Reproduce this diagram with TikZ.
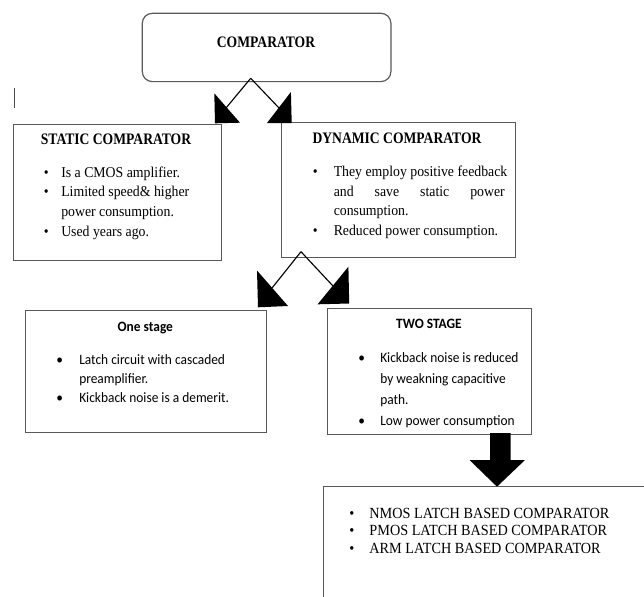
\documentclass[tikz,border=0pt]{standalone}
\usepackage{fontspec}
\setmainfont[FakeStretch=0.92]{Liberation Serif}
\newfontfamily\ttlserif[FakeStretch=0.85]{Liberation Serif}
\newfontfamily\calibri[FakeStretch=0.94]{Carlito}
\newdimen\px \px=0.75pt
\newcommand\bitem[1]{\makebox[#1][l]{\textbullet}}
\begin{document}
\begin{tikzpicture}[x=0.75pt,y=-0.75pt,
  boxstyle/.style={draw=black!65, line width=0.9pt, inner sep=0pt, anchor=north west},
  linkstyle/.style={draw=black, line width=0.85pt},
  headstyle/.style={fill=black},
  ttl/.style={anchor=base, inner sep=0pt, font=\ttlserif\bfseries\fontsize{12}{14}\selectfont},
  sttl/.style={anchor=base, inner sep=0pt, font=\calibri\bfseries\fontsize{10.7}{12}\selectfont},
  lst/.style={anchor=base west, inner sep=0pt}]
\useasboundingbox (0,0) rectangle (644,597);
\clip (0,0) rectangle (644,597);
\fill[white] (0,0) rectangle (644,597);

% boxes
\node[boxstyle, rounded corners=7.5pt, minimum width=248.6\px, minimum height=68.3\px] (top) at (141.7,12.7) {};
\node[boxstyle, minimum width=208\px, minimum height=136\px] (static) at (12.5,124) {};
\node[boxstyle, minimum width=234.2\px, minimum height=135\px] (dynamic) at (280.6,122) {};
\node[boxstyle, minimum width=241\px, minimum height=122.5\px] (one) at (25,309.5) {};
\node[boxstyle, minimum width=204.4\px, minimum height=126\px] (two) at (326.6,307.5) {};
\node[boxstyle, minimum width=400\px, minimum height=200\px] (latch) at (322.7,485.7) {};

% stray mark
\draw[black!70, line width=0.8pt] (14.4,88) -- (14.4,108);

% connectors top
\coordinate (a1) at (250.7,78.3);
\draw[linkstyle] (a1) -- (226,108);
\draw[linkstyle] (a1) -- (280,109);
\fill[headstyle] (214.3,93.3) -- (215,123.3) -- (240,122.7) -- cycle;
\fill[headstyle] (290.9,92) -- (291.7,123) -- (267,123) -- cycle;

% connectors middle
\coordinate (a2) at (301,251.7);
\draw[linkstyle] (a2) -- (272,288);
\draw[linkstyle] (a2) -- (333,286);
\fill[headstyle] (257,270.5) -- (258,307.3) -- (288,306) -- cycle;
\fill[headstyle] (348.4,266.7) -- (349.2,303.5) -- (317.6,304.3) -- cycle;

% block arrow
\fill[headstyle] (490,433) -- (510.5,433) -- (510.5,460) -- (525,460) -- (497,486.7) -- (469.5,460) -- (490,460) -- cycle;

% titles
\node[ttl] (tT) at (266,47.3) {COMPARATOR};
\node[ttl] (sT) at (116,144.6) {STATIC COMPARATOR};
\node[ttl] (dT) at (397,143.6) {DYNAMIC COMPARATOR};
\node[sttl] (oT) at (145.3,331) {One stage};
\node[sttl] (wT) at (429,328.7) {TWO STAGE};

% lists
\node[lst, font=\fontsize{11.25}{14.7}\selectfont] (sL) at (43.5,177.3)
 {\begin{tabular}[t]{@{}l@{}l@{}}\bitem{17.5\px}& Is a CMOS amplifier.\\
  \bitem{17.5\px}& Limited speed\& higher\\
  & power consumption.\\
  \bitem{17.5\px}& Used years ago.\end{tabular}};

\node[lst, font=\fontsize{11.25}{14.85}\selectfont] (dL) at (312.5,176.3)
 {\begin{tabular}[t]{@{}l@{}l@{}}\bitem{21\px}& They employ positive feedback\\
  & \makebox[171\px][s]{and\hfill save\hfill static\hfill power}\\
  & consumption.\\
  \bitem{21\px}& Reduced power consumption.\end{tabular}};

\node[lst, font=\calibri\fontsize{10.7}{14.5}\selectfont] (oL) at (56,364)
 {\begin{tabular}[t]{@{}l@{}l@{}}\bitem{23\px}& Latch circuit with cascaded\\
  & preamplifier.\\
  \bitem{23\px}& Kickback noise is a demerit.\end{tabular}};

\node[lst, font=\calibri\fontsize{10.7}{15.8}\selectfont] (wL) at (358,362)
 {\begin{tabular}[t]{@{}l@{}l@{}}\bitem{22\px}& Kickback noise is reduced\\
  & by weakning capacitive\\
  & path.\\
  \bitem{22\px}& Low power consumption\end{tabular}};

\node[lst, font=\fontsize{11.6}{13.1}\selectfont] (lL) at (349.2,518.4)
 {\begin{tabular}[t]{@{}l@{}l@{}}\bitem{20\px}& NMOS LATCH BASED COMPARATOR\\
  \bitem{20\px}& PMOS LATCH BASED COMPARATOR\\
  \bitem{20\px}& ARM LATCH BASED COMPARATOR\end{tabular}};
\end{tikzpicture}
\end{document}
